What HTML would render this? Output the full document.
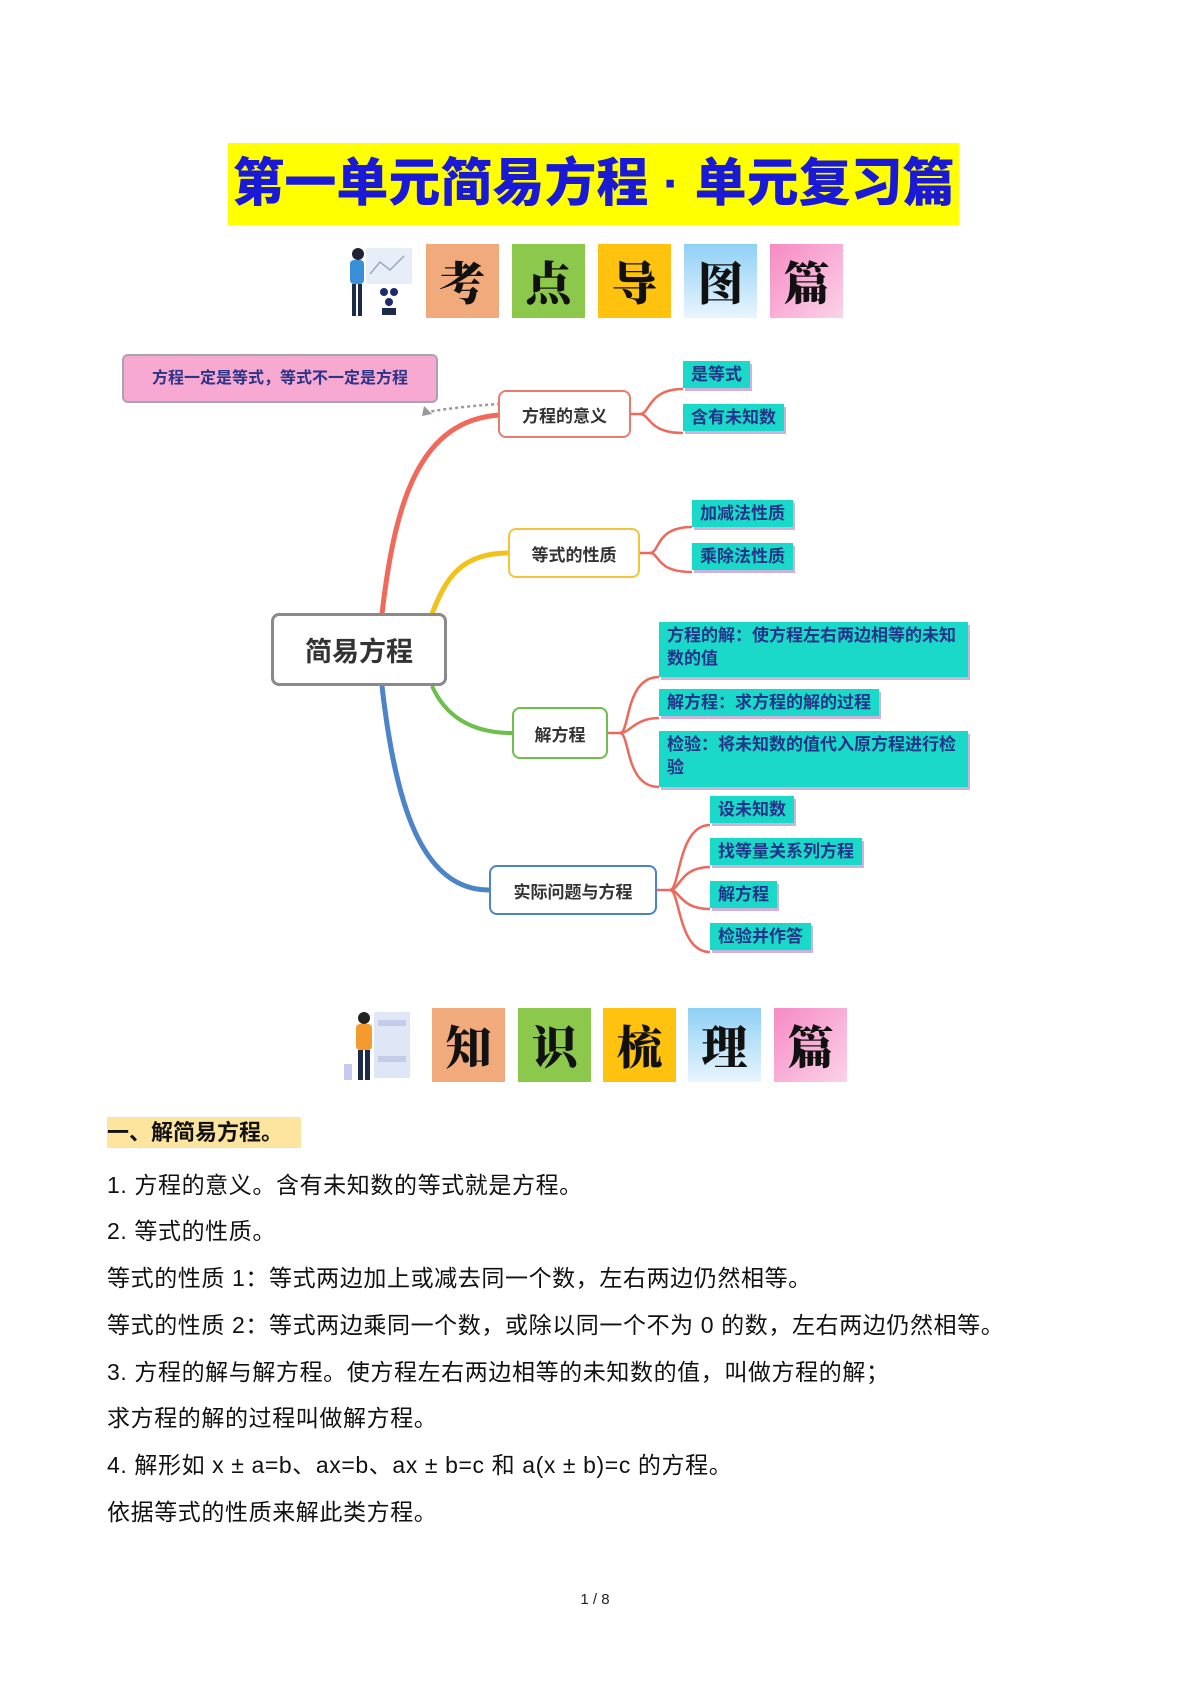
<!DOCTYPE html>
<html><head><meta charset="utf-8"><style>
*{margin:0;padding:0;box-sizing:border-box}
body{width:1190px;height:1682px;background:#fff;position:relative;overflow:hidden;font-family:"Liberation Sans","Noto Sans CJK SC",sans-serif}
.a{position:absolute}
.title{left:228px;top:143px;width:731px;height:82px;background:#ffff00;color:#1a1ad6;font-weight:900;font-size:52px;line-height:82px;text-align:center;white-space:nowrap}
.tile{position:absolute;width:73px;height:74px;font-family:"Noto Serif CJK SC",serif;font-weight:900;font-size:46px;text-align:center;line-height:74px;color:#111}
.node{position:absolute;background:#fff;border-radius:8px;font-weight:bold;color:#333;display:flex;align-items:center;justify-content:center;font-size:17px}
.t{position:absolute;background:#1ad9c8;color:#24338a;font-weight:bold;font-size:17px;padding:2px 8px;line-height:23px;box-shadow:2px 3px 0 #c9b3e0}
.p{position:absolute;left:107px;font-size:23px;letter-spacing:0.6px;color:#111;white-space:nowrap}
</style></head><body>
<div class="a title">第一单元简易方程 · 单元复习篇</div>

<!-- icon row 1 -->
<svg class="a" style="left:344px;top:244px" width="76" height="76">
<rect x="22" y="4" width="46" height="36" fill="#e8eef8"/>
<polyline points="26,30 36,18 46,26 60,12" fill="none" stroke="#9ab" stroke-width="1.5"/>
<circle cx="14" cy="10" r="6" fill="#223"/>
<rect x="6" y="16" width="14" height="24" rx="4" fill="#3b8fd9"/>
<rect x="8" y="40" width="4" height="32" fill="#1d2b4a"/><rect x="14" y="40" width="4" height="32" fill="#1d2b4a"/>
<circle cx="40" cy="48" r="4" fill="#1d2b6a"/><circle cx="50" cy="48" r="4" fill="#1d2b6a"/><circle cx="45" cy="58" r="4" fill="#1d2b6a"/>
<rect x="38" y="64" width="14" height="7" fill="#1d2b4a"/>
</svg>
<div class="tile" style="left:426px;top:244px;background:#f0aa7c">考</div>
<div class="tile" style="left:512px;top:244px;background:#8cc84b">点</div>
<div class="tile" style="left:598px;top:244px;background:#ffc20e">导</div>
<div class="tile" style="left:684px;top:244px;background:linear-gradient(#8fd0f5,#e9f5fd)">图</div>
<div class="tile" style="left:770px;top:244px;background:linear-gradient(135deg,#f68ac4,#fbd3e8)">篇</div>

<!-- mindmap connectors -->
<svg class="a" style="left:0;top:0" width="1190" height="1000">
<path d="M382 614 C395 500,420 420,500 415" fill="none" stroke="#f0695a" stroke-width="5"/>
<path d="M432 614 C445 580,460 553,508 553" fill="none" stroke="#f2c11a" stroke-width="5"/>
<path d="M432 686 C445 715,470 733,512 733" fill="none" stroke="#6cbf4a" stroke-width="4"/>
<path d="M382 686 C395 800,420 890,489 890" fill="none" stroke="#4d84c8" stroke-width="5"/>
<path d="M500 404 C480 405,450 408,428 412" fill="none" stroke="#999" stroke-width="2.5" stroke-dasharray="3,3"/>
<polygon points="424,406 432,414 422,416" fill="#999"/>
<g fill="none" stroke="#ec6a5c" stroke-width="2.5">
<path d="M631 414 H640 C650 414,648 389,683 389"/><path d="M640 414 C650 414,648 433,683 433"/>
<path d="M640 553 H650 C660 553,655 527,692 527"/><path d="M650 553 C660 553,655 572,692 572"/>
<path d="M608 733 H620 C630 733,625 677,659 677"/><path d="M620 733 C630 733,635 718,659 718"/><path d="M620 733 C630 733,625 787,659 787"/>
<path d="M657 890 H670 C680 890,678 825,710 825"/><path d="M670 890 C680 890,680 867,710 867"/><path d="M670 890 C680 890,680 909,710 909"/><path d="M670 890 C680 890,678 952,710 952"/>
</g>
</svg>
<div class="a" style="left:122px;top:354px;width:316px;height:49px;background:#f7a9d2;border:2px solid #a9a3b5;border-radius:6px;color:#2d3485;font-weight:bold;font-size:16px;line-height:45px;text-align:center">方程一定是等式，等式不一定是方程</div>
<div class="node" style="left:498px;top:390px;width:133px;height:48px;border:2.5px solid #ec7a6c">方程的意义</div>
<div class="node" style="left:508px;top:528px;width:132px;height:50px;border:2.5px solid #f2c53a">等式的性质</div>
<div class="node" style="left:271px;top:613px;width:176px;height:73px;border:3px solid #8a8a8a;font-size:27px">简易方程</div>
<div class="node" style="left:512px;top:707px;width:96px;height:52px;border:2.5px solid #6cbf4a">解方程</div>
<div class="node" style="left:489px;top:865px;width:168px;height:50px;border:2.5px solid #4d84c8">实际问题与方程</div>

<div class="t" style="left:683px;top:361px">是等式</div>
<div class="t" style="left:683px;top:404px">含有未知数</div>
<div class="t" style="left:692px;top:500px">加减法性质</div>
<div class="t" style="left:692px;top:543px">乘除法性质</div>
<div class="t" style="left:659px;top:622px;width:309px;height:55px">方程的解：使方程左右两边相等的未知数的值</div>
<div class="t" style="left:659px;top:689px">解方程：求方程的解的过程</div>
<div class="t" style="left:659px;top:731px;width:309px;height:56px">检验：将未知数的值代入原方程进行检验</div>
<div class="t" style="left:710px;top:796px">设未知数</div>
<div class="t" style="left:710px;top:838px">找等量关系列方程</div>
<div class="t" style="left:710px;top:881px">解方程</div>
<div class="t" style="left:710px;top:923px">检验并作答</div>

<!-- icon row 2 -->
<svg class="a" style="left:340px;top:1008px" width="80" height="76">
<rect x="34" y="4" width="36" height="66" fill="#dfe6f5"/>
<rect x="38" y="12" width="28" height="6" fill="#c3cdea"/><rect x="38" y="48" width="28" height="6" fill="#c3cdea"/>
<circle cx="24" cy="10" r="6" fill="#222"/>
<rect x="16" y="16" width="16" height="26" rx="4" fill="#f59a2e"/>
<rect x="18" y="42" width="5" height="30" fill="#1d2b4a"/><rect x="25" y="42" width="5" height="30" fill="#1d2b4a"/>
<rect x="4" y="56" width="8" height="16" fill="#c9c8f0"/>
</svg>
<div class="tile" style="left:432px;top:1008px;background:#f0aa7c">知</div>
<div class="tile" style="left:518px;top:1008px;background:#8cc84b">识</div>
<div class="tile" style="left:603px;top:1008px;background:#ffc20e">梳</div>
<div class="tile" style="left:688px;top:1008px;background:linear-gradient(#8fd0f5,#e9f5fd)">理</div>
<div class="tile" style="left:774px;top:1008px;background:linear-gradient(135deg,#f68ac4,#fbd3e8)">篇</div>

<div class="a" style="left:107px;top:1117px;width:194px;height:31px;background:#fde5a0;font-weight:bold;font-size:22px;line-height:31px;color:#111">一、解简易方程。</div>
<div class="p" style="top:1166px">1. 方程的意义。含有未知数的等式就是方程。</div>
<div class="p" style="top:1212px">2. 等式的性质。</div>
<div class="p" style="top:1259px">等式的性质 1：等式两边加上或减去同一个数，左右两边仍然相等。</div>
<div class="p" style="top:1306px">等式的性质 2：等式两边乘同一个数，或除以同一个不为 0 的数，左右两边仍然相等。</div>
<div class="p" style="top:1353px">3. 方程的解与解方程。使方程左右两边相等的未知数的值，叫做方程的解；</div>
<div class="p" style="top:1399px">求方程的解的过程叫做解方程。</div>
<div class="p" style="top:1446px">4. 解形如 x ± a=b、ax=b、ax ± b=c 和 a(x ± b)=c 的方程。</div>
<div class="p" style="top:1493px">依据等式的性质来解此类方程。</div>
<div class="a" style="left:0;width:1190px;top:1591px;text-align:center;font-size:15px;color:#222">1 / 8</div>
</body></html>
